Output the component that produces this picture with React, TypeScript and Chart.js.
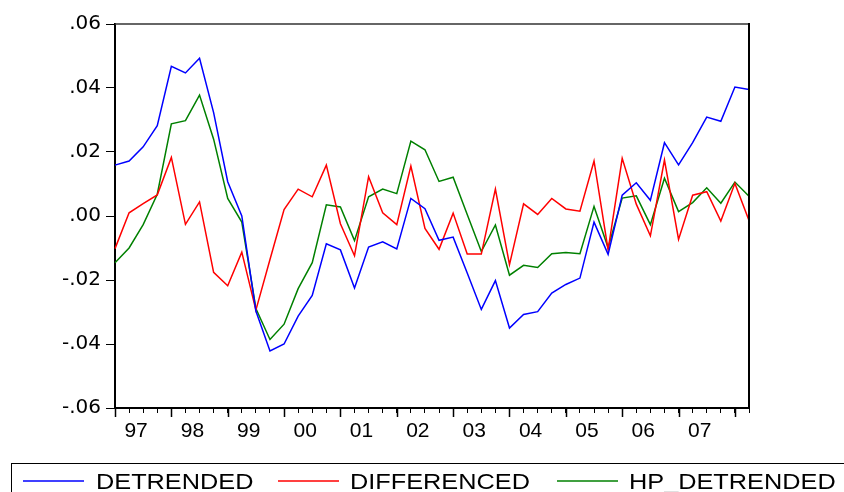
import React, { useEffect, useRef } from "react";
import { Chart, registerables } from "chart.js";

Chart.register(...registerables);

const years = ["97", "98", "99", "00", "01", "02", "03", "04", "05", "06", "07", "08"];
const quarters = ["Q1", "Q2", "Q3", "Q4"];
const categories: string[] = [];
for (let i = 0; i < 46; i++) categories.push(years[Math.floor(i / 4)] + quarters[i % 4]);
const labeledYears = ["97", "98", "99", "00", "01", "02", "03", "04", "05", "06", "07"];

const detrended = [
  0.0159, 0.0172, 0.0216, 0.0282,
  0.0468, 0.0447, 0.0493, 0.0323,
  0.0107, 0.0, -0.0297, -0.0422,
  -0.04, -0.0313, -0.0248, -0.0087,
  -0.0106, -0.0225, -0.0097, -0.0081,
  -0.0103, 0.0055, 0.0023, -0.0076,
  -0.0066, -0.0178, -0.0292, -0.0202,
  -0.035, -0.0308, -0.0299, -0.0241,
  -0.0214, -0.0194, -0.0019, -0.012,
  0.0065, 0.0104, 0.0049, 0.0229,
  0.016, 0.0229, 0.0309, 0.0296,
  0.0403, 0.0395,
];
const differenced = [
  -0.0102, 0.001, 0.0039, 0.0066,
  0.0183, -0.0026, 0.0044, -0.0176,
  -0.0218, -0.0113, -0.0294, -0.0136,
  0.002, 0.0084, 0.006, 0.0159,
  -0.0024, -0.0124, 0.0123, 0.001,
  -0.0027, 0.0156, -0.0039, -0.0104,
  0.0009, -0.0119, -0.0119, 0.0084,
  -0.0152, 0.0038, 0.0005, 0.0055,
  0.0022, 0.0015, 0.0172, -0.0106,
  0.018, 0.0037, -0.0062, 0.0175,
  -0.0073, 0.0065, 0.0076, -0.0016,
  0.0102, -0.0014,
];
const hpDetrended = [
  -0.0146, -0.01, -0.0027, 0.0068,
  0.0288, 0.0298, 0.0378, 0.024,
  0.0055, -0.0019, -0.0289, -0.0386,
  -0.0338, -0.0227, -0.0146, 0.0035,
  0.0028, -0.0077, 0.006, 0.0084,
  0.007, 0.0234, 0.0207, 0.0108,
  0.0121, 0.0005, -0.0111, -0.0028,
  -0.0185, -0.0154, -0.0161, -0.0118,
  -0.0114, -0.0118, 0.003, -0.0099,
  0.0056, 0.0063, -0.0027, 0.0118,
  0.0014, 0.0042, 0.0088, 0.004,
  0.0106, 0.0062,
];

const seriesNames = ["DETRENDED", "DIFFERENCED", "HP_DETRENDED"];
const seriesColors = ["#0000ff", "#ff0000", "#008000"];
const yTickValues = [-0.06, -0.04, -0.02, 0.0, 0.02, 0.04, 0.06];

function fmtTick(v: number): string {
  const r = Math.round(v * 100) / 100;
  const s = Math.abs(r).toFixed(2).replace(/^0/, "");
  return r < 0 ? "-" + s : s;
}

const framePlugin = {
  id: "frameAndLegend",
  afterDraw(chart: any) {
    const ctx = chart.ctx;
    const area = chart.chartArea;
    const xs = chart.scales.x;
    ctx.save();
    ctx.strokeStyle = "#333333";
    ctx.lineWidth = 1.5;
    ctx.beginPath();
    ctx.moveTo(area.left, area.top);
    ctx.lineTo(area.right, area.top);
    ctx.stroke();
    ctx.strokeStyle = "#000000";
    ctx.lineWidth = 2;
    ctx.beginPath();
    ctx.moveTo(area.right, area.top - 1);
    ctx.lineTo(area.right, area.bottom);
    ctx.stroke();
    ctx.lineWidth = 1.5;
    ctx.beginPath();
    for (let i = 0; i < categories.length; i += 4) {
      const px = Math.round(xs.getPixelForValue(i)) + 0.5;
      ctx.moveTo(px, area.bottom);
      ctx.lineTo(px, area.bottom + 9);
    }
    ctx.stroke();
    ctx.lineWidth = 1;
    ctx.strokeStyle = "#000000";
    ctx.strokeRect(11.5, 463.5, 860, 60);
    const lineStarts = [23, 278, 557];
    const textStarts = [96, 350, 629];
    for (let k = 0; k < 3; k++) {
      ctx.strokeStyle = seriesColors[k];
      ctx.lineWidth = 1.5;
      ctx.beginPath();
      ctx.moveTo(lineStarts[k], 481);
      ctx.lineTo(lineStarts[k] + 61, 481);
      ctx.stroke();
      ctx.save();
      ctx.scale(1.15, 1);
      ctx.fillStyle = "#000000";
      ctx.font = '22px "Liberation Sans", Arial, sans-serif';
      ctx.textBaseline = "alphabetic";
      ctx.textAlign = "left";
      ctx.fillText(seriesNames[k], textStarts[k] / 1.15, 489);
      ctx.restore();
    }
    ctx.restore();
  },
};

export default function App() {
  const ref = useRef<HTMLCanvasElement | null>(null);
  useEffect(() => {
    if (!ref.current) return;
    const data = [detrended, differenced, hpDetrended];
    const chart = new Chart(ref.current, {
      type: "line",
      data: {
        labels: categories,
        datasets: data.map((d, k) => ({
          label: seriesNames[k],
          data: d,
          borderColor: seriesColors[k],
          backgroundColor: seriesColors[k],
          borderWidth: 1.5,
          pointRadius: 0,
          tension: 0,
          fill: false,
        })),
      },
      options: {
        animation: false,
        responsive: false,
        devicePixelRatio: 1,
        layout: { padding: { left: 0, top: 24, right: 95, bottom: 44 } },
        plugins: { legend: { display: false }, tooltip: { enabled: false } },
        scales: {
          x: {
            type: "category",
            offset: false,
            afterFit: (s: any) => { s.height = 40; },
            grid: { drawOnChartArea: false, drawTicks: true, tickLength: 5, color: "#000", lineWidth: 1 },
            border: { display: true, color: "#000", width: 2 },
            ticks: {
              autoSkip: false,
              maxRotation: 0,
              minRotation: 0,
              labelOffset: 7,
              padding: 6,
              color: "#000",
              font: { family: '"Liberation Sans", Arial, sans-serif', size: 21 },
              callback: (_v: any, i: number) => {
                const y = Math.floor(i / 4);
                return i % 4 === 1 && y < labeledYears.length ? labeledYears[y] : "";
              },
            },
          },
          y: {
            min: -0.06,
            max: 0.06,
            afterFit: (s: any) => { s.width = 115; },
            afterBuildTicks: (s: any) => { s.ticks = yTickValues.map((v) => ({ value: v })); },
            grid: { drawOnChartArea: false, drawTicks: true, tickLength: 9, color: "#000", lineWidth: 1 },
            border: { display: true, color: "#000", width: 2 },
            ticks: {
              padding: 5,
              color: "#000",
              font: { family: '"DejaVu Sans", sans-serif', size: 20 },
              callback: (v: any) => fmtTick(Number(v)),
            },
          },
        },
      },
      plugins: [framePlugin],
    });
    return () => chart.destroy();
  }, []);
  return (
    <div style={{ position: "absolute", left: 0, top: 0, width: 844, height: 492, background: "#fff" }}>
      <canvas ref={ref} width={844} height={492} />
    </div>
  );
}
